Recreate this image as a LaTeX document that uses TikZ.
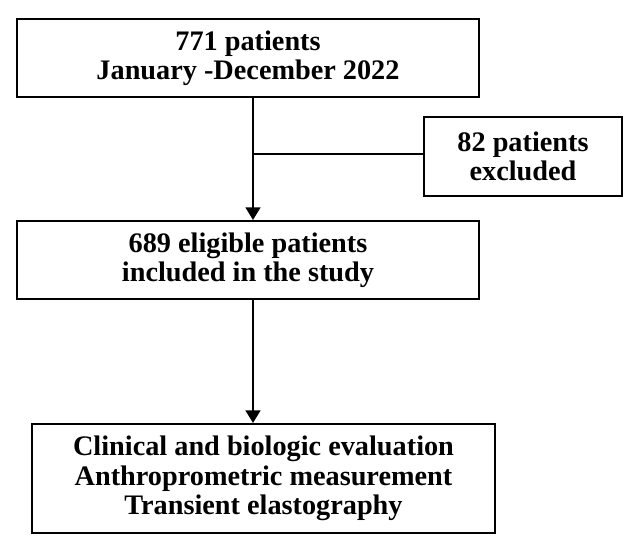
\documentclass[tikz,border=0pt]{standalone}
\usepackage{fontspec}
\setmainfont{Liberation Serif}
\usetikzlibrary{arrows.meta}
\tikzset{
  flowbox/.style={draw, line width=1.5pt, inner sep=0pt, align=center,
    font=\fontsize{21.2pt}{22pt}\selectfont\bfseries},
  flowline/.style={line width=1.8pt},
  flowarrow/.style={line width=1.8pt, -{Triangle[length=9.5pt,width=11pt]}}
}
\begin{document}
\begin{tikzpicture}[x=0.75pt,y=0.75pt,yscale=-1,xscale=1]
\useasboundingbox (0,0) rectangle (635,551);

%Shape: Rectangle [id:start]
\node [flowbox, minimum width=346.5pt, minimum height=58.5pt] (start) at (248,58) {771 patients\\January -December 2022};
%Shape: Rectangle [id:excluded]
\node [flowbox, minimum width=148.5pt, minimum height=59.25pt] (excluded) at (523,156.5) {82 patients\\excluded};
%Shape: Rectangle [id:eligible]
\node [flowbox, minimum width=346.5pt, minimum height=58.5pt] (eligible) at (248,260) {689 eligible patients\\included in the study};
%Shape: Rectangle [id:evaluation]
\node [flowbox, minimum width=347.25pt, minimum height=81.75pt] (evaluation) at (263.5,478.5) {Clinical and biologic evaluation\\Anthroprometric measurement\\Transient elastography};

\coordinate (split) at (253,154);

%Straight Lines
\draw [flowline] (split |- start.south) -- (split) ;
\draw [flowline] (split) -- (split -| excluded.west) ;
\draw [flowarrow] (split) -- (split |- eligible.north) ;
\draw [flowarrow] (split |- eligible.south) -- (split |- evaluation.north) ;

\end{tikzpicture}
\end{document}
